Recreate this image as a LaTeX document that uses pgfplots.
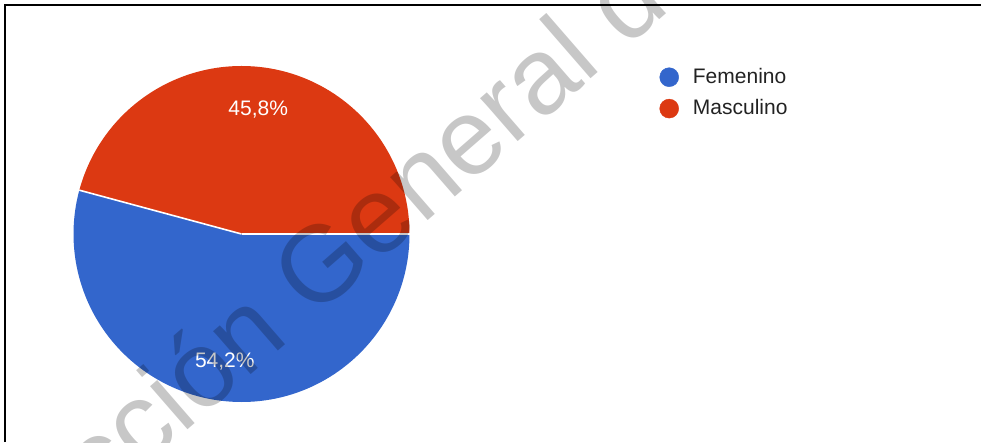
\documentclass[border=0pt]{standalone}
\usepackage{pgfplots}
\pgfplotsset{compat=1.18}
\usepackage{pgfplotstable}
\usepackage{fontspec}
\setmainfont{Liberation Sans}
\definecolor{gblue}{HTML}{3366CC}
\definecolor{gred}{HTML}{DC3912}
\definecolor{legtext}{HTML}{222222}

\pgfplotstableread{
label value
Femenino 54.2
Masculino 45.8
}\piedata

\begin{document}
\begin{tikzpicture}
\useasboundingbox (0,0) rectangle (981pt,442pt);
\pgfplotstablegetelem{0}{value}\of\piedata
\pgfmathsetmacro\vA{\pgfplotsretval}
\pgfplotstablegetelem{1}{value}\of\piedata
\pgfmathsetmacro\vB{\pgfplotsretval}
\pgfmathsetmacro\angA{-3.6*\vA}
\pgfmathsetmacro\angB{360+\angA}
\pgfmathsetmacro\midA{\angA/2}
\pgfmathsetmacro\midB{\angB/2}
\pgfmathsetmacro\lAx{241.5+127*cos(\midA)}
\pgfmathsetmacro\lAy{208+127*sin(\midA)}
\pgfmathsetmacro\lBx{241.5+127*cos(\midB)}
\pgfmathsetmacro\lBy{208+127*sin(\midB)}
\begin{axis}[
  at={(0pt,0pt)}, anchor=south west,
  width=981pt, height=442pt, scale only axis,
  xmin=0, xmax=981, ymin=0, ymax=442,
  axis lines=none, clip=false,
  /pgf/number format/assume math mode=true,
  legend style={at={(axis cs:659.5,374.5)}, anchor=north west,
    draw=none, fill=none, inner sep=0pt, outer sep=0pt,
    font=\fontsize{21}{25}\selectfont, text=legtext,
    row sep=12pt, column sep=14pt,
    nodes={inner sep=0pt, outer sep=0pt}},
  legend cell align=left,
]
\addlegendimage{legend image code/.code={\fill[gblue] (9.5pt,-0.5pt) circle (9.5pt);}}
\addlegendentry{\pgfplotstablegetelem{0}{label}\of\piedata\pgfplotsretval}
\addlegendimage{legend image code/.code={\fill[gred] (9.5pt,-0.5pt) circle (9.5pt);}}
\addlegendentry{\pgfplotstablegetelem{1}{label}\of\piedata\pgfplotsretval}

\fill[gblue] (axis cs:241.5,208) -- (axis cs:409.5,208)
   arc[start angle=0, end angle=\angA, radius=168pt] -- cycle;
\fill[gred] (axis cs:241.5,208) -- (axis cs:409.5,208)
   arc[start angle=0, end angle=\angB, radius=168pt] -- cycle;
\draw[white, line width=1.6pt] (axis cs:241.5,208) -- (axis cs:409.5,208);
\draw[white, line width=1.6pt] (axis cs:241.5,208) -- ++(\angA:168pt);

\node[text=white, font=\fontsize{21}{25}\selectfont, inner sep=0pt, text depth=0pt]
  at (axis cs:\lAx,\lAy) {\pgfmathprintnumber[fixed, precision=1, fixed zerofill, use comma, assume math mode=true]{\vA}\%};
\node[text=white, font=\fontsize{21}{25}\selectfont, inner sep=0pt, text depth=0pt]
  at (axis cs:\lBx,\lBy) {\pgfmathprintnumber[fixed, precision=1, fixed zerofill, use comma, assume math mode=true]{\vB}\%};
\end{axis}

\begin{scope}
\clip (0,0) rectangle (981pt,442pt);
\node[rotate=41, anchor=base west, inner sep=0pt, text=black, text opacity=0.22,
      font=\fontsize{108}{130}\selectfont]
  at (313.5pt,122pt) {\llap{Dirección }General de Bibliotecas UAQ};
\end{scope}
\draw[black, line width=2pt] (4.5pt,0pt) -- (4.5pt,437pt) -- (981pt,437pt);
\end{tikzpicture}
\end{document}
